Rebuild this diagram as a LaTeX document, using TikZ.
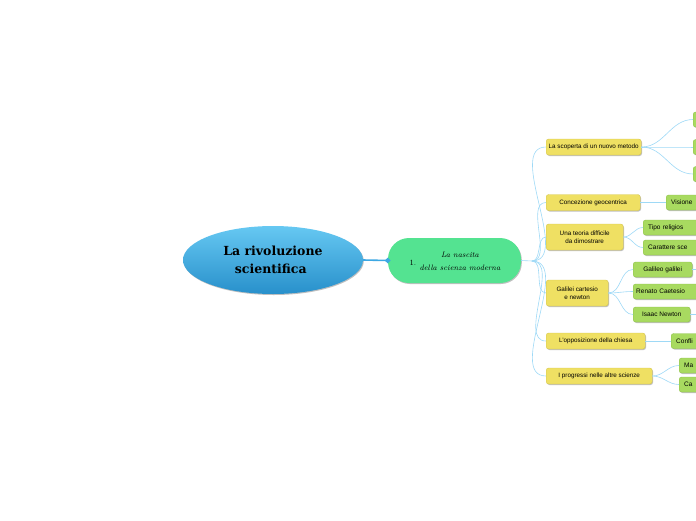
\documentclass[tikz,border=0pt]{standalone}
\usepackage{fontspec}
\setsansfont{Liberation Sans}
\newfontfamily\rootfont{DejaVu Serif}
\usetikzlibrary{shadows,shapes.geometric}
\definecolor{rootTop}{HTML}{66C8F2}
\definecolor{rootBot}{HTML}{2890CB}
\definecolor{rootLine}{HTML}{3DA8E3}
\definecolor{childF}{HTML}{54E391}
\definecolor{yelF}{HTML}{EFE063}
\definecolor{yelB}{HTML}{D6C74C}
\definecolor{leafF}{HTML}{A8DA60}
\definecolor{leafB}{HTML}{8FC24A}
\definecolor{lineC}{HTML}{9ED9F6}
\tikzset{
  shad/.style={drop shadow={shadow xshift=0.8pt,shadow yshift=-1pt,opacity=.25,fill=black}},
  yel/.style={draw=yelB, fill=yelF, rounded corners=2.5pt, line width=0.4pt,
    font=\sffamily\fontsize{6.3}{8.5}\selectfont, inner xsep=2pt, inner ysep=2pt,
    minimum height=16pt, anchor=west, align=center, shad},
  leaf/.style={draw=leafB, fill=leafF, rounded corners=2.5pt, line width=0.4pt,
    font=\sffamily\fontsize{6.5}{8}\selectfont, inner xsep=5pt, inner ysep=2pt,
    minimum height=15pt, anchor=west, align=center, shad},
  cut/.style={text width=#1, align=left},
  conn/.style={draw=lineC, line width=0.6pt},
}
\begin{document}
\begin{tikzpicture}[x=1pt,y=-1pt]
\useasboundingbox (0,0) rectangle (696,520);
\clip (0,0) rectangle (696,520);

% root
\node[ellipse, minimum width=180pt, minimum height=68pt, inner sep=0pt,
  top color=rootTop, bottom color=rootBot, shad, align=center,
  font=\rootfont\bfseries\fontsize{12.5}{18}\selectfont] (root) at (273,260)
  {La rivoluzione\\scientifica\ \ };

% child
\node[fill=childF, rounded corners=21pt, minimum width=133pt, minimum height=45pt, shad]
  (child) at (454.5,260.5) {};
\node[font=\fontsize{8}{9}\selectfont] (num) at (413,263) {1.};
\node[font=\itshape\fontsize{7.8}{13}\selectfont, align=center] (ctext) at (460,261)
  {La nascita\\della scienza moderna};

\draw[rootLine, line width=1.6pt] (root.east) -- (child.west);
\node[diamond, fill=rootLine, inner sep=0pt, minimum size=6pt] (knob) at (child.west) {};

% yellow nodes
\node[yel, minimum width=95pt] (y1) at (546,147) {La scoperta di un nuovo metodo};
\node[yel, minimum width=94pt] (y2) at (546,202.5) {Concezione geocentrica};
\node[yel, minimum width=77pt, minimum height=26pt] (y3) at (546,237) {Una teoria difficile\\da dimostrare};
\node[yel, minimum width=62pt, minimum height=26pt] (y4) at (546,293) {Galilei cartesio\\e newton};
\node[yel, minimum width=99pt] (y5) at (546,341) {L'opposizione della chiesa};
\node[yel, minimum width=106pt] (y6) at (546,376) {I progressi nelle altre scienze};

% leaves
\node[leaf, cut=40pt] (g1a) at (693,119.5) {};
\node[leaf, cut=40pt] (g1b) at (693,147) {};
\node[leaf, cut=40pt] (g1c) at (693,174) {};
\node[leaf, cut=50pt] (g2) at (666,202.5) {Visione};
\node[leaf, cut=60pt] (g3a) at (643,227.5) {Tipo religios};
\node[leaf, cut=60pt] (g3b) at (643,247.5) {Carattere sce};
\node[leaf, minimum width=59pt, inner xsep=3pt] (g4a) at (633,269.5) {Galileo galilei};
\node[leaf, cut=60pt, inner xsep=3pt] (g4b) at (633,291.5) {Renato Caetesio};
\node[leaf, minimum width=57pt, inner xsep=3pt] (g4c) at (633,314.5) {Isaac Newton};
\node[leaf, cut=50pt] (g5) at (671,341) {Confli};
\node[leaf, cut=40pt] (g6a) at (679,365.5) {Ma};
\node[leaf, cut=40pt] (g6b) at (679,384.5) {Ca};

% connectors
\coordinate (hub) at (532,261);
\draw[conn] (child.east) -- (hub);
\foreach \n in {y1,y2,y3,y4,y5,y6}
  \draw[conn] (hub) to[out=0,in=180,looseness=0.9] (\n.west);
\foreach \n in {g1a,g1b,g1c}
  \draw[conn] (y1.east) to[out=0,in=180] (\n.west);
\draw[conn] (y2.east) -- (g2.west);
\foreach \n in {g3a,g3b}
  \draw[conn] (y3.east) to[out=0,in=180] (\n.west);
\foreach \n in {g4a,g4b,g4c}
  \draw[conn] (y4.east) to[out=0,in=180] (\n.west);
\draw[conn] (y5.east) -- (g5.west);
\foreach \n in {g6a,g6b}
  \draw[conn] (y6.east) to[out=0,in=180] (\n.west);
\coordinate (e4a) at (700,269.5);
\coordinate (e4c) at (700,314.5);
\draw[conn] (g4a.east) -- (e4a);
\draw[conn] (g4c.east) -- (e4c);
\end{tikzpicture}
\end{document}
